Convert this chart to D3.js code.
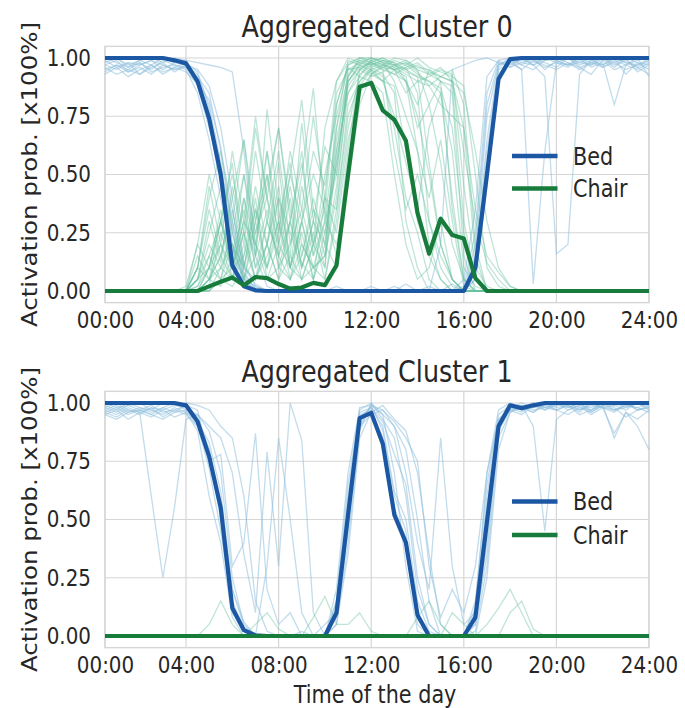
<!DOCTYPE html>
<html><head><meta charset="utf-8">
<script src="https://cdn.jsdelivr.net/npm/d3@7"></script>
<style>body{margin:0;background:#fff;} svg{display:block;}</style>
</head><body><svg id="c" width="685" height="708"></svg>
<script>
// ---------- data ----------
const slots = d3.range(48); // half-hour slots of the day
const xTickPos = [0,7,15,23,31,39,47];
const xTickLabels = ["00:00","04:00","08:00","12:00","16:00","20:00","24:00"];
const yTicks = [0,0.25,0.5,0.75,1];
const titles = ["Aggregated Cluster 0","Aggregated Cluster 1"];
const seriesNames = ["Bed","Chair"];
const xLabel = "Time of the day";
const yLabel = "Activation prob. [x100%]";

const c0BedMean = [1,1,1,1,1,1,.99,.977, .9,.74,.5,.11,.02,.003,0,0, 0,0,0,0,0,0,0,0, 0,0,0,0,0,0,0,0, .1,.5,.91,.995,1,1,1,1, 1,1,1,1,1,1,1,1];
const c0ChairMean = [0,0,0,0,0,0,0,0, 0,.02,.04,.058,.025,.06,.055,.03, .01,.015,.035,.025,.11,.5,.877,.893, .775,.735,.645,.335,.16,.31,.24,.225, .055,0,0,0,0,0,0,0, 0,0,0,0,0,0,0,0];
const c1BedMean = [1,1,1,1,1,1,1,.99, .92,.77,.55,.12,.025,.003,0,0, 0,0,0,0,.1,.52,.935,.958, .825,.52,.4,.09,0,0,0,0, .08,.49,.9,.99,.978,.99,1,1, 1,1,1,1,1,1,1,1];
const c1ChairMean = [0,0,0,0,0,0,0,0, 0,0,0,0,0,0,0,0, 0,0,0,0,0,0,0,0, 0,0,0,0,0,0,0,0, 0,0,0,0,0,0,0,0, 0,0,0,0,0,0,0,0];

const c0BedDays = [
[1,.98,.96,.99,.97,1,.98,.97, .93,.8,.55,.2,.04,0,0,0, 0,0,0,0,0,0,0,0, 0,0,0,0,0,0,0,.02, .25,.85,.99,1,.97,1,.98,.96, 1,.97,.99,1,.96,1,.98,.95],
[.95,.97,.94,.96,.93,.97,.95,.96, .92,.85,.6,.35,.08,.01,0,0, 0,0,0,0,.02,0,0,0, 0,0,.03,0,0,0,0,0, .1,.6,.95,.98,1,.97,.99,1, .98,.95,.98,1,.97,.99,.96,.93],
[.97,.95,.98,.93,.96,.98,.94,.97, .95,.88,.7,.4,.12,.02,0,0, 0,0,0,0,0,0,0,0, 0,0,0,0,.02,0,0,.05, .35,.92,.99,.96,.98,1,.95,.99, .97,1,.96,.98,.8,.97,.99,1],
[1,1,.97,.99,1,.98,1,.99, .98,.97,.96,.94,.6,.15,.02,0, 0,0,0,0,0,0,0,0, 0,0,0,0,0,0,0,0, .05,.5,.93,.99,.97,.95,.99,1, 1,.98,.97,.99,1,.98,.97,.99],
[.96,.93,.95,.98,.94,.96,.97,.95, .85,.65,.4,.15,.05,0,0,0, 0,0,0,0,0,0,0,0, 0,0,0,0,0,0,0,0, .15,.75,.97,.99,.95,.03,.6,.98, .97,1,.98,.96,.99,.97,.95,.98],
[.99,.96,.98,.97,.99,.95,.98,.99, .9,.72,.45,.12,.03,0,0,0, 0,0,0,0,0,0,0,.02, 0,0,0,0,0,0,0,0, .08,.55,.96,1,.98,.97,.92,.16, .2,.93,.99,.97,1,.98,.96,.99],
[.94,.97,.95,.93,.97,.94,.96,.98, .94,.78,.5,.25,.06,0,0,0, 0,0,0,0,0,0,0,0, 0,0,0,0,0,.2,.95,.97, .99,1,.98,.96,1,.97,1,.98, .96,.99,.97,1,.98,.95,.97,1],
[.98,1,.96,.98,.95,.99,.97,.96, .88,.7,.52,.3,.1,.03,0,0, .02,0,0,0,0,0,0,0, 0,0,0,0,0,0,.03,0, .2,.8,.98,.97,1,.99,.96,.98, 1,.96,.98,.97,1,.93,.98,.97],
[.97,.99,.94,.97,.99,.97,.95,.97, .91,.76,.48,.18,.05,.02,0,0, 0,0,0,0,0,0,0,0, 0,.02,0,0,0,0,0,0, .12,.65,.97,1,.99,.98,1,.99, .97,.98,1,.96,.98,1,.94,.97],
[.93,.96,.92,.95,.97,.93,.96,.94, .89,.82,.62,.28,.07,.01,0,0, 0,0,0,0,0,0,0,0, 0,0,0,0,0,0,0,0, .05,.45,.9,.98,.95,.99,.97,.95, .98,.96,.93,.99,.95,.97,1,.92]
];

const c0ChairDays = [
[0,0,0,0,0,0,0,0, .05,.3,.12,.45,.2,.6,.3,.15, .4,.1,.3,.2,.55,.9,.97,1, .98,.95,.9,.6,.2,.05,0,0, 0,0,0,0,0,0,0,0, 0,0,0,0,0,0,0,0],
[0,0,0,0,0,0,0,.02, .2,.1,.35,.05,.25,.7,.4,.1, .05,.3,.1,.15,.45,.85,.95,.98, 1,.97,.95,.92,.9,.85,.4,.05, 0,0,0,0,0,0,0,0, 0,0,0,0,0,0,0,0],
[0,0,0,0,0,0,0,0, .1,.4,.6,.25,.5,.15,.78,.35, .1,.05,.2,.1,.6,.95,.98,.96, .93,.85,.3,.1,0,0,0,0, 0,0,0,0,0,0,0,0, 0,0,0,0,0,0,0,0],
[0,0,0,0,0,0,0,0, 0,.05,.2,.1,.4,.1,.3,.6, .2,.5,.87,.3,.7,.92,1,.99, .97,.96,.98,.95,.93,.9,.88,.3, .05,0,0,0,0,0,0,0, 0,0,0,0,0,0,0,0],
[0,0,0,0,0,0,0,0, .15,.05,.3,.55,.1,.35,.2,.05, .3,.12,.05,.4,.35,.8,.9,.95, .9,.75,.55,.35,.7,.85,.6,.1, .02,0,0,0,0,0,0,0, 0,0,0,0,0,0,0,0],
[0,0,0,0,0,0,0,0, 0,0,.1,.05,.2,.05,.15,.3, .1,.25,.05,.2,.1,.5,.88,.95, .97,1,.99,.96,.95,.92,.9,.7, .15,0,0,0,0,0,0,0, 0,0,0,0,0,0,0,0],
[0,0,0,0,0,0,0,0, .05,.25,.45,.1,.3,.2,.5,.25, .6,.35,.15,.5,.75,.96,.92,.9, .85,.5,.2,.05,.1,.3,.05,0, 0,0,0,0,0,0,0,0, 0,0,0,0,0,0,0,0],
[0,0,0,0,0,0,0,0, 0,.1,.05,.3,.65,.2,.1,.4, .15,.72,.3,.1,.8,.97,1,1, .98,.97,.94,.92,.55,.2,.05,0, 0,0,0,0,0,0,0,0, 0,0,0,0,0,0,0,0],
[0,0,0,0,0,0,0,0, .02,.15,.3,.1,.05,.25,.45,.7, .35,.1,.25,.05,.3,.7,.93,.97, .99,.96,.93,.9,.92,.95,.93,.45, .1,.02,0,0,0,0,0,0, 0,0,0,0,0,0,0,0],
[0,0,0,0,0,0,0,0, .1,.05,.15,.35,.1,.4,.05,.2, .1,.45,.2,.35,.15,.6,.95,.99, 1,.98,.9,.8,.95,.9,.35,.05, 0,0,0,0,0,0,0,0, 0,0,0,0,0,0,0,0],
[0,0,0,0,0,0,0,0, 0,0,.05,.1,.3,.15,.6,.3, .55,.2,.1,.15,.7,.99,.97,.94, .9,.88,.6,.3,.15,.05,0,0, 0,0,0,0,0,0,0,0, 0,0,0,0,0,0,0,0],
[0,0,0,0,0,0,0,0, .05,.2,.1,.25,.05,.15,.35,.1, .2,.35,.75,.4,.25,.65,.85,.93, .96,.99,.97,1,.96,.94,.92,.88, .5,.1,.02,0,0,0,0,0, 0,0,0,0,0,0,0,0],
[0,0,0,0,0,0,0,0, 0,.05,.1,.2,.05,.3,.1,.25, .5,.82,.35,.15,.4,.9,.97,.95, .92,.7,.4,.25,.05,0,0,0, 0,0,0,0,0,0,0,0, 0,0,0,0,0,0,0,0],
[0,0,0,0,0,0,0,0, .1,.35,.15,.05,.4,.2,.05,.1, .3,.05,.2,.4,.9,.98,1,.98, .96,.95,.97,.93,.9,.87,.7,.25, .05,0,0,0,0,0,0,0, 0,0,0,0,0,0,0,0],
[0,0,0,0,0,0,0,0, 0,.02,.25,.1,.15,.45,.2,.55, .1,.3,.05,.25,.55,.88,.95,.92, .94,.97,.99,.95,.8,.9,.85,.15, 0,0,0,0,0,0,0,0, 0,0,0,0,0,0,0,0],
[0,0,0,0,0,0,0,0, 0,0,.05,.02,.1,.05,.2,.05, .15,.05,.1,.3,.2,.45,.8,.93, .97,.95,.96,.98,.94,.92,.9,.85, .6,.3,.1,.02,0,0,0,0, 0,0,0,0,0,0,0,0],
[0,0,0,0,0,0,0,0, .05,.1,.3,.5,.25,.05,.3,.15, .05,.2,.1,.05,.35,.75,.9,.96, .98,.9,.75,.6,.4,.65,.3,.02, 0,0,0,0,0,0,0,0, 0,0,0,0,0,0,0,0],
[0,0,0,0,0,0,0,0, 0,.05,.02,.15,.35,.1,.2,.4, .25,.1,.3,.62,.5,.93,.99,.97, .95,.93,.96,.85,.3,.1,.02,0, 0,0,0,0,0,0,0,0, 0,0,0,0,0,0,0,0],
[0,0,0,0,0,0,0,0, .1,.45,.2,.6,.3,.75,.4,.2, .5,.3,.6,.45,.8,.97,.99,.98, .96,.93,.9,.75,.5,.2,.05,0, 0,0,0,0,0,0,0,0, 0,0,0,0,0,0,0,0],
[0,0,0,0,0,0,0,0, 0,.1,.3,.15,.5,.25,.4,.7, .3,.55,.2,.7,.9,1,.98,.97, .99,.98,.95,.97,.93,.96,.9,.6, .3,.12,.05,0,0,0,0,0, 0,0,0,0,0,0,0,0],
[0,0,0,0,0,0,0,0, .05,.15,.05,.2,.1,.3,.6,.2, .45,.15,.35,.25,.6,.85,.92,.99, .97,.95,.85,.9,.88,.8,.75,.7, .35,.15,.08,.02,0,0,0,0, 0,0,0,0,0,0,0,0],
[0,0,0,0,0,0,0,0, .2,.5,.3,.1,.25,.05,.2,.45, .1,.3,.5,.35,.85,.95,.96,.93, .9,.95,.92,.7,.8,.55,.2,.05, 0,0,0,0,0,0,0,0, 0,0,0,0,0,0,0,0],
[0,0,0,0,0,0,0,0, 0,.05,.15,.4,.65,.3,.5,.15, .3,.6,.15,.3,.5,.92,.98,1, .99,.97,.98,.94,.88,.92,.95,.8, .2,0,0,0,0,0,0,0, 0,0,0,0,0,0,0,0],
[0,0,0,0,0,0,0,0, .02,.1,.2,.05,.15,.35,.1,.3, .05,.15,.4,.2,.65,.9,.96,.98, .95,.6,.35,.5,.3,.15,.05,0, 0,0,0,0,0,0,0,0, 0,0,0,0,0,0,0,0]
];

const c1BedDays = [
[.97,.95,.98,.96,.94,.97,.99,.98, .93,.8,.58,.15,.03,0,0,0, 0,0,0,0,.12,.55,.95,.97, .85,.55,.42,.1,0,0,0,0, .08,.5,.92,.99,.97,1,.98,.99, 1,.97,.99,.98,.96,1,.97,.98],
[.95,.93,.96,.97,.95,.93,.96,.97, .9,.78,.5,.1,.02,0,0,0, 0,0,0,0,.08,.45,.9,.99, .88,.6,.45,.05,0,0,0,0, .1,.55,.9,.97,.98,.96,1,.97, .99,.95,.97,1,.98,.94,.97,.99],
[.98,1,.97,.96,.6,.25,.55,.93, .95,.88,.7,.25,.05,0,0,0, 0,0,0,0,.05,.4,.88,1, .95,.7,.3,.02,0,0,0,0, .05,.35,.9,.98,1,.98,.99,1, .98,1,.97,.99,1,.98,1,.99],
[.96,.98,.95,.97,.99,.96,.97,.99, .97,.75,.78,.3,.4,.87,.2,.05, .1,0,0,0,.15,.6,.97,1, .93,.85,.6,.2,.05,0,0,0, .02,.3,.85,.96,.99,.97,.98,1, .97,.99,.98,1,.97,.99,.98,.96],
[.99,.97,1,.98,.96,.98,1,.97, .95,.9,.85,.7,.35,.1,.79,.3, 1,.84,.1,0,.2,.7,.98,.99, .97,.9,.8,.5,.15,0,0,0, .15,.65,.95,.99,.97,.98,1,.98, .99,.97,1,.98,.99,1,.97,.98],
[.97,.99,.96,.98,.97,.95,.98,.96, .88,.6,.4,.08,0,0,0,0, 0,0,0,0,.1,.5,.92,.99, .95,.9,.7,.4,.2,.85,.3,.05, .1,.6,.93,.97,.95,.99,.97,1, .98,1,.96,.99,.97,.98,1,.97],
[.96,.94,.97,.95,.98,.97,.94,.96, .92,.83,.62,.2,.04,0,0,0, 0,0,0,.05,.1,.48,.94,.98, .9,.62,.5,.15,.02,0,0,0, .05,.4,.88,.97,.99,.9,.45,.93, .97,.99,.95,.98,.87,.96,.9,.8],
[1,.98,.99,1,.97,1,.99,1, .99,.97,.9,.85,.6,.15,.02,0, 0,0,0,0,.05,.35,.85,.96, .99,.93,.88,.7,.35,.05,0,0, 0,.25,.8,.96,.98,1,.97,.99, 1,.98,.97,1,.99,.97,1,.98],
[.95,.97,.93,.96,.98,.94,.97,.95, .9,.72,.45,.12,.02,0,0,0, 0,.02,0,0,.15,.65,.96,.98, .92,.78,.65,.25,.05,0,0,0, .12,.7,.97,1,.98,.96,.99,.97, .95,.98,.96,.99,.85,.96,.93,.97],
[.98,.96,.99,.97,.95,.98,.96,.99, .94,.8,.55,.2,.06,0,.3,.85, .5,.1,0,0,.1,.5,.9,.95, .97,.92,.85,.75,.3,.08,.2,.1, .3,.7,.93,.98,.96,1,.98,.97, .99,.96,1,.98,.97,.99,.98,1]
];

const c1ChairDays = [
[0,0,0,0,0,0,0,0, 0,0,0,0,0,.05,.1,.03, 0,0,0,0,0,0,0,0, 0,0,0,0,0,0,0,0, 0,.05,.12,.2,.1,0,0,0, 0,0,0,0,0,0,0,0],
[0,0,0,0,0,0,0,0, 0,.05,.15,.05,0,0,0,0, 0,0,0,0,0,0,0,0, 0,0,0,.08,.15,.05,0,0, 0,0,0,.1,.15,.03,0,0, 0,0,0,0,0,0,0,0],
[0,0,0,0,0,0,0,0, 0,0,0,0,0,0,0,0, 0,0,.08,.17,.05,.05,.1,.02, 0,0,0,0,0,0,.1,.05, 0,0,0,0,0,0,0,0, 0,0,0,0,0,0,0,0]
];

// ---------- drawing ----------
const SX = 0.865;
const FONT = "DejaVu Sans";
const TXT = "#262626";
const GRID = "#d6d6d6";
const colors = {bed:"#1b57a3", chair:"#177b3b", bedThin:"#8fbfdc", chairThin:"#66c29f"};

const svg = d3.select("#c");
const panels = [
  {title:titles[0], top:46.35, bottom:302.65, titleY:37, legY:[156,188.5], bedDays:c0BedDays, chairDays:c0ChairDays, bedMean:c0BedMean, chairMean:c0ChairMean},
  {title:titles[1], top:391.35, bottom:647.65, titleY:382, legY:[501.5,535], bedDays:c1BedDays, chairDays:c1ChairDays, bedMean:c1BedMean, chairMean:c1ChairMean}
];
const L = 105, R = 649;

function text(g, x, y, s, size, anchor, rot) {
  return g.append("text")
    .attr("transform", `translate(${x},${y}) scale(${SX},1)` + (rot ? ` rotate(${rot})` : ""))
    .attr("text-anchor", anchor).attr("font-family", FONT).attr("font-size", size)
    .attr("fill", TXT).text(s);
}

panels.forEach((p) => {
  const g = svg.append("g");
  const x = d3.scaleLinear().domain([0,47]).range([L,R]);
  const y = d3.scaleLinear().domain([-0.05,1.05]).range([p.bottom,p.top]);

  g.append("g").selectAll("line").data(yTicks).join("line")
    .attr("x1",L).attr("x2",R).attr("y1",d=>y(d)).attr("y2",d=>y(d))
    .attr("stroke",GRID).attr("stroke-width",1.2);
  g.append("g").selectAll("line").data(xTickPos).join("line")
    .attr("y1",p.top).attr("y2",p.bottom).attr("x1",d=>x(d)).attr("x2",d=>x(d))
    .attr("stroke",GRID).attr("stroke-width",1.2);
  g.append("rect").attr("x",L).attr("y",p.top).attr("width",R-L).attr("height",p.bottom-p.top)
    .attr("fill","none").attr("stroke",GRID).attr("stroke-width",1.4);

  const line = d3.line().x((d,i)=>x(slots[i])).y(d=>y(d));
  g.append("g").selectAll("path").data(p.bedDays).join("path")
    .attr("d",line).attr("fill","none").attr("stroke",colors.bedThin)
    .attr("stroke-opacity",0.55).attr("stroke-width",1.3);
  g.append("g").selectAll("path").data(p.chairDays).join("path")
    .attr("d",line).attr("fill","none").attr("stroke",colors.chairThin)
    .attr("stroke-opacity",0.42).attr("stroke-width",1.3);
  g.append("path").attr("d",line(p.bedMean)).attr("fill","none")
    .attr("stroke",colors.bed).attr("stroke-width",4.2).attr("stroke-linejoin","round");
  g.append("path").attr("d",line(p.chairMean)).attr("fill","none")
    .attr("stroke",colors.chair).attr("stroke-width",4.2).attr("stroke-linejoin","round");

  const xa = d3.axisBottom(x).tickValues(xTickPos).tickFormat((d,i)=>xTickLabels[i]).tickSize(0).tickPadding(9);
  g.append("g").attr("transform",`translate(0,${p.bottom})`).call(xa)
    .call(a=>a.select(".domain").remove())
    .selectAll("text").attr("transform",`scale(${SX},1)`).attr("font-size",23)
    .attr("font-family",FONT).attr("fill",TXT);
  const ya = d3.axisLeft(y).tickValues(yTicks).tickFormat(d3.format(".2f")).tickSize(0);
  g.append("g").attr("transform",`translate(${L},0)`).call(ya)
    .call(a=>a.select(".domain").remove())
    .selectAll("text").attr("x",-14/SX).attr("transform",`scale(${SX},1)`).attr("font-size",23)
    .attr("font-family",FONT).attr("fill",TXT);

  text(g, (L+R)/2, p.titleY, p.title, 29.4, "middle");
  text(g, 37, (p.top+p.bottom)/2, yLabel, 24.5, "middle", -90);

  const legColors = [colors.bed, colors.chair];
  seriesNames.forEach((n, k) => {
    const ly = p.legY[k];
    g.append("line").attr("x1",512).attr("x2",557.5).attr("y1",ly).attr("y2",ly)
      .attr("stroke",legColors[k]).attr("stroke-width",4.5);
    text(g, 573, ly + 8.5, n, 24, "start");
  });
});

text(svg, (L+R)/2 - 2, 703, xLabel, 24, "middle");
</script>
</body></html>
